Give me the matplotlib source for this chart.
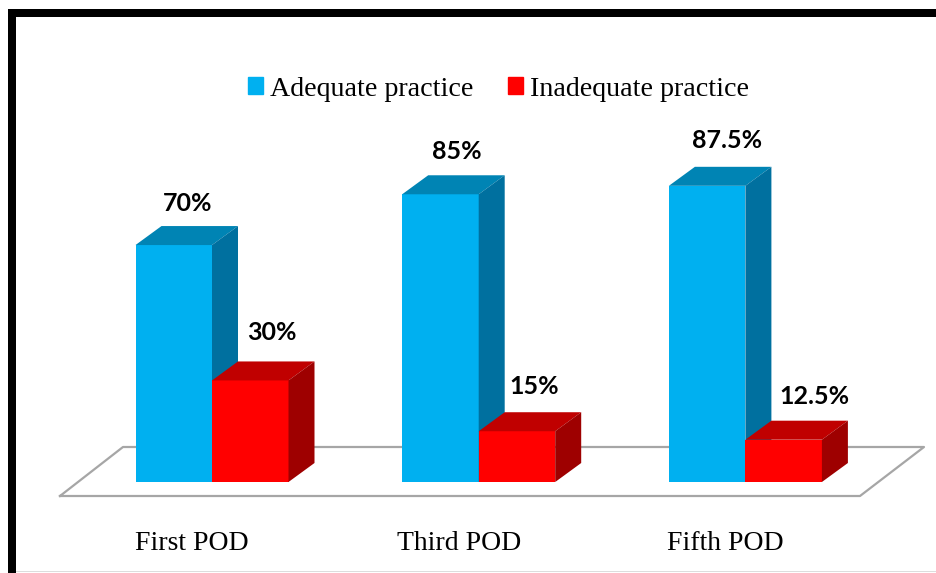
import matplotlib
matplotlib.use('Agg')
import matplotlib.pyplot as plt
from matplotlib.patches import Patch, Rectangle

# Values
categories = ['First POD', 'Third POD', 'Fifth POD']
adequate = [70, 85, 87.5]
inadequate = [30, 15, 12.5]
adequate_labels = ['70%', '85%', '87.5%']
inadequate_labels = ['30%', '15%', '12.5%']

W, H = 936, 573
group_px = 266.7      # distance between groups
unit_px = 3.385       # pixels per percent
x0_px, y0_px = 212, 482   # where group 0 and value 0 sit in the image

bar_w = 76.5 / group_px
dx = 26 / group_px    # fake 3D depth
dy = 19 / unit_px

fig = plt.figure(figsize=(W / 100, H / 100), dpi=100)
ax = fig.add_axes([0, 0, 1, 1])
ax.set_xlim(-x0_px / group_px, (W - x0_px) / group_px)
ax.set_ylim((y0_px - H) / unit_px, y0_px / unit_px)
ax.axis('off')


def px_x(p):
    return (p - x0_px) / group_px


def px_y(p):
    return (y0_px - p) / unit_px


def bar3d(x, v, front, top, side):
    ax.bar(x, v, bar_w, align='edge', color=front, zorder=3)
    ax.fill([x, x + dx, x + bar_w + dx, x + bar_w],
            [v, v + dy, v + dy, v], color=top, lw=0, zorder=3)
    ax.fill([x + bar_w, x + bar_w + dx, x + bar_w + dx, x + bar_w],
            [0, dy, v + dy, v], color=side, lw=0, zorder=3)


# floor
ax.plot([px_x(p) for p in (60, 123, 924, 860, 60)],
        [px_y(p) for p in (496, 447, 447, 496, 496)],
        color='#a6a6a6', lw=1.6, zorder=1)

for i in range(len(categories)):
    bar3d(i - bar_w, adequate[i], '#00b0f0', '#0084b4', '#00709f')
    bar3d(i, inadequate[i], '#ff0000', '#c00000', '#9e0000')

# label nudges, in pixels from the bar front centre
adequate_nudge = [14, 16, 20]
adequate_lift = [42, 43, 45]
inadequate_nudge = [22, 17, 31]
inadequate_lift = [48, 45, 43]
for i in range(len(categories)):
    ax.annotate(adequate_labels[i], (i - bar_w / 2, adequate[i]),
                xytext=(adequate_nudge[i] * 0.72, adequate_lift[i] * 0.72), textcoords='offset points',
                ha='center', va='center', family='Lato', weight='bold', fontsize=18, color='black', zorder=4)
    ax.annotate(inadequate_labels[i], (i + bar_w / 2, inadequate[i]),
                xytext=(inadequate_nudge[i] * 0.72, inadequate_lift[i] * 0.72), textcoords='offset points',
                ha='center', va='center', family='Lato', weight='bold', fontsize=18, color='black', zorder=4)
    ax.text(i + px_x(192), px_y(543), categories[i], ha='center', va='center',
            family='Liberation Serif', fontsize=20, color='black')

handles = [Patch(color='#00b0f0', label='Adequate practice'),
           Patch(color='#ff0000', label='Inadequate practice')]
fig.legend(handles=handles, ncol=2, loc='center', bbox_to_anchor=(498.5 / W, 1 - 89 / H),
           frameon=False, prop={'family': 'Liberation Serif', 'size': 20.2},
           handlelength=0.55, handleheight=0.55, handletextpad=0.25, columnspacing=1.2)

# thick black frame, left and top only
fig.add_artist(Rectangle((8 / W, 0), 8 / W, 1 - 9 / H, transform=fig.transFigure, color='black', lw=0))
fig.add_artist(Rectangle((8 / W, 1 - 17 / H), 1, 8 / H, transform=fig.transFigure, color='black', lw=0))
# faint line along the bottom edge of the scan
fig.add_artist(Rectangle((16 / W, 1 / H), 1, 1 / H, transform=fig.transFigure, color='#dddddd', lw=0))

fig.savefig('out.png', dpi=100)
